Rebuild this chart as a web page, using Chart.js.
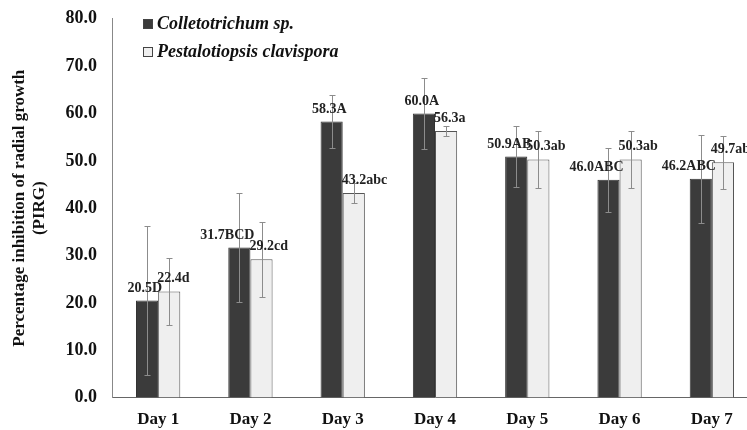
<!DOCTYPE html>
<html>
<head>
<meta charset="utf-8">
<script src="https://cdn.jsdelivr.net/npm/chart.js@4.4.1/dist/chart.umd.min.js"></script>
<style>
  html, body { margin: 0; padding: 0; background: #fff; overflow: hidden; }
  #wrap { position: absolute; left: 0; top: -7px; width: 758px; height: 437px; }
</style>
</head>
<body>
<div id="wrap"><canvas id="pirgChart"></canvas></div>
<script>
const categories = ['Day 1', 'Day 2', 'Day 3', 'Day 4', 'Day 5', 'Day 6', 'Day 7'];
const colletoValues = [20.5, 31.7, 58.3, 60.0, 50.9, 46.0, 46.2];
const pestaloValues = [22.4, 29.2, 43.2, 56.3, 50.3, 50.3, 49.7];
const colletoErrors = [15.8, 11.6, 5.6, 7.6, 6.5, 6.7, 9.3];
const pestaloErrors = [7.1, 7.9, 2.1, 1.0, 6.0, 6.0, 5.6];
const colletoLetters = ['D', 'BCD', 'A', 'A', 'AB', 'ABC', 'ABC'];
const pestaloLetters = ['d', 'cd', 'abc', 'a', 'ab', 'ab', 'ab'];
const yTicks = [0, 10, 20, 30, 40, 50, 60, 70, 80];

const SERIF = '"Liberation Serif", "Times New Roman", serif';

// error bars + value labels + legend drawn on top of the bars
const extras = {
    id: 'extras',
    afterDatasetsDraw(chart) {
        const ctx = chart.ctx;
        const y = chart.scales.y;
        const errs = [colletoErrors, pestaloErrors];
        const letters = [colletoLetters, pestaloLetters];

        ctx.save();
        chart.data.datasets.forEach((ds, di) => {
            const meta = chart.getDatasetMeta(di);
            meta.data.forEach((bar, i) => {
                const v = ds.data[i];
                const e = errs[di][i];
                const yt = Math.round(y.getPixelForValue(v + e)) + 0.5;
                const yb = Math.round(y.getPixelForValue(v - e)) + 0.5;
                const x = Math.round(bar.x) + 0.5;
                ctx.strokeStyle = '#8c8c8c';
                ctx.lineWidth = 1;
                ctx.beginPath();
                ctx.moveTo(x, yt); ctx.lineTo(x, yb);
                ctx.moveTo(x - 3, yt); ctx.lineTo(x + 3, yt);
                ctx.moveTo(x - 3, yb); ctx.lineTo(x + 3, yb);
                ctx.stroke();

                ctx.fillStyle = '#222';
                ctx.font = 'bold 14px ' + SERIF;
                ctx.textBaseline = 'middle';
                const txt = v.toFixed(1) + letters[di][i];
                if (di === 0) {
                    ctx.textAlign = 'right';
                    ctx.fillText(txt, bar.x + bar.width / 2 + 4, bar.y - 12);
                } else {
                    ctx.textAlign = 'left';
                    ctx.fillText(txt, bar.x - bar.width / 2 - 1, bar.y - 13);
                }
            });
        });

        // legend
        const lx = chart.chartArea.left + 31;
        chart.data.datasets.forEach((ds, di) => {
            const ly = 31 + di * 28;
            ctx.fillStyle = ds.backgroundColor;
            ctx.fillRect(lx, ly - 5, 10, 10);
            ctx.strokeStyle = '#444';
            ctx.lineWidth = 1;
            ctx.strokeRect(lx + 0.5, ly - 4.5, 9, 9);
            ctx.fillStyle = '#111';
            ctx.font = 'italic bold 18px ' + SERIF;
            ctx.textAlign = 'left';
            ctx.textBaseline = 'middle';
            ctx.fillText(ds.label, lx + 14, ly);
        });
        ctx.restore();
    }
};

new Chart(document.getElementById('pirgChart'), {
    type: 'bar',
    data: {
        labels: categories,
        datasets: [
            {
                label: 'Colletotrichum sp.',
                data: colletoValues,
                backgroundColor: '#3b3b3b',
                borderColor: '#333',
                borderWidth: 1
            },
            {
                label: 'Pestalotiopsis clavispora',
                data: pestaloValues,
                backgroundColor: '#efefef',
                borderColor: '#555',
                borderWidth: 1
            }
        ]
    },
    options: {
        responsive: true,
        maintainAspectRatio: false,
        animation: false,
        layout: { padding: { top: 0, bottom: -12 } },
        datasets: {
            bar: { barPercentage: 1.0, categoryPercentage: 0.48 }
        },
        plugins: {
            legend: { display: false },
            tooltip: { enabled: false }
        },
        scales: {
            x: {
                grid: { display: false, drawTicks: false },
                border: { color: '#666', width: 1 },
                ticks: {
                    color: '#111',
                    padding: 12,
                    font: { family: SERIF, size: 17, weight: 'bold' }
                }
            },
            y: {
                min: 0,
                max: 80,
                afterBuildTicks: s => { s.ticks = yTicks.map(v => ({ value: v })); },
                afterFit: s => { s.width = 112; },
                grid: { display: false, drawTicks: false },
                border: { color: '#888', width: 1 },
                ticks: {
                    color: '#111',
                    padding: 15,
                    font: { family: SERIF, size: 18, weight: 'bold' },
                    callback: v => Number(v).toFixed(1)
                },
                title: {
                    display: true,
                    text: ['Percentage inhibition of radial growth', '(PIRG)'],
                    color: '#111',
                    font: { family: SERIF, size: 17, weight: 'bold' },
                    padding: { top: 9, bottom: 0 }
                }
            }
        }
    },
    plugins: [extras]
});
</script>
</body>
</html>
